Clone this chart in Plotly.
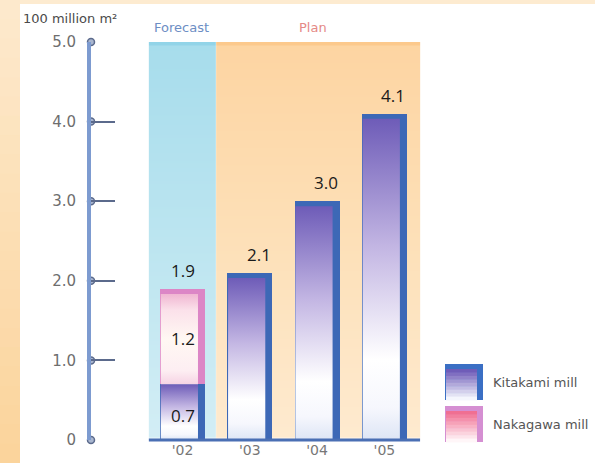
import plotly.graph_objects as go

# ---------------- data ----------------
years = ["'02", "'03", "'04", "'05"]
kitakami = [0.7, 2.1, 3.0, 4.1]          # 100 million m2
nakagawa = [1.2, 0.0, 0.0, 0.0]          # 100 million m2
y_ticks = [0, 1, 2, 3, 4, 5]
y_ticktext = ["0", "1.0", "2.0", "3.0", "4.0", "5.0"]
forecast_span = [-0.5, 0.5]              # category span labelled "Forecast"
plan_span = [0.5, 3.5]                   # category span labelled "Plan"

# ---------------- geometry (pixels) ----------------
W, H = 595, 463
L, R, T, B = 91, 595, 42, 440
CAT0_PX, CAT_STEP_PX = 182.5, 67.3
xs = list(range(len(years)))
x_range = [(L - CAT0_PX) / CAT_STEP_PX, (R - CAT0_PX) / CAT_STEP_PX]
y_range = [0, 5]


def px_x(p):
    return (p - L) / (R - L)


def px_y(p):
    return (B - p) / (B - T)


BAR_W = 0.67
BODY_W = 0.565
BEVEL = 0.065

fig = go.Figure()

# shaded "Forecast" / "Plan" backgrounds (heatmaps sit below bars)
fig.add_trace(go.Heatmap(
    x=[forecast_span[0], sum(forecast_span) / 2, forecast_span[1]],
    y=[0, 0.05, 4.95, 5.0],
    z=[[0, 0], [0.5, 0.5], [1, 1]],
    zmin=0, zmax=1, zsmooth="best", showscale=False, hoverinfo="skip",
    colorscale=[[0, "#e9f6fa"], [0.5, "#bce5f0"], [1, "#92d4e8"]],
))
fig.add_trace(go.Heatmap(
    x=[plan_span[0], sum(plan_span) / 2, plan_span[1] + 0.03],
    y=[0, 0.05, 4.95, 5.0],
    z=[[0, 0], [0.5, 0.5], [1, 1]],
    zmin=0, zmax=1, zsmooth="best", showscale=False, hoverinfo="skip",
    colorscale=[[0, "#fff4e6"], [0.5, "#fde0b8"], [1, "#fcc98c"]],
))

# bars (their visible parts become the 3-D side and top bevel)
fig.add_trace(go.Bar(
    x=xs, y=kitakami, width=BAR_W, name="Kitakami mill", showlegend=False,
    marker=dict(color="#3d68b6", line=dict(width=0)), hoverinfo="y+name",
))
fig.add_trace(go.Bar(
    x=xs, y=nakagawa, width=BAR_W, name="Nakagawa mill", showlegend=False,
    marker=dict(color="#dc86c6", line=dict(width=0)), hoverinfo="y+name",
))

# gradient front faces of the bars, derived from the same data
k_scale = [[0, "#dde5f5"], [0.1, "#f6f7fd"], [0.25, "#ffffff"],
           [0.6, "#c3b6e3"], [1, "#6e5cb8"]]
n_scale = [[0, "#f6d3e4"], [0.15, "#fdeef2"], [0.5, "#fff8f3"],
           [0.82, "#fbe1ea"], [1, "#f0b6d2"]]
for i, c in enumerate(xs):
    x0 = c - BAR_W / 2 + 0.012
    x1 = c - BAR_W / 2 + BODY_W
    k_top = kitakami[i] - (BEVEL if nakagawa[i] == 0 else 0)
    fig.add_trace(go.Scatter(
        x=[x0, x1, x1, x0, x0], y=[0, 0, k_top, k_top, 0],
        mode="lines", line=dict(width=0), fill="toself",
        fillgradient=dict(type="vertical", colorscale=k_scale),
        hoverinfo="skip", showlegend=False,
    ))
    if nakagawa[i] > 0:
        n_top = kitakami[i] + nakagawa[i] - BEVEL
        fig.add_trace(go.Scatter(
            x=[x0, x1, x1, x0, x0],
            y=[kitakami[i], kitakami[i], n_top, n_top, kitakami[i]],
            mode="lines", line=dict(width=0), fill="toself",
            fillgradient=dict(type="vertical", colorscale=n_scale),
            hoverinfo="skip", showlegend=False,
        ))

# little circles where the ticks meet the axis
fig.add_trace(go.Scatter(
    x=[x_range[0]] * len(y_ticks), y=y_ticks, mode="markers",
    marker=dict(symbol="circle", size=7, color="#a9b6cf",
                line=dict(color="#5b6a8c", width=1.5)),
    cliponaxis=False, hoverinfo="skip", showlegend=False,
))

# ---------------- annotations ----------------
ann = []
totals = [k + n for k, n in zip(kitakami, nakagawa)]
lab_font = dict(family="Open Sans", size=17, color="#1a1a1a")
for i, c in enumerate(xs):
    ann.append(dict(x=c, y=totals[i], xref="x", yref="y", text=f"{totals[i]:.1f}",
                    showarrow=False, yanchor="bottom", yshift=5,
                    xshift=0 if nakagawa[i] > 0 else 9, font=lab_font))
    if nakagawa[i] > 0:
        ann.append(dict(x=c, y=kitakami[i] + nakagawa[i] / 2, xref="x", yref="y",
                        text=f"{nakagawa[i]:.1f}", showarrow=False, yshift=-2,
                        font=lab_font))
        ann.append(dict(x=c, y=kitakami[i] / 2, xref="x", yref="y",
                        text=f"{kitakami[i]:.1f}", showarrow=False, yshift=-3,
                        font=lab_font))

small = dict(family="DejaVu Sans", size=13)
ann += [
    dict(x=px_x(21), y=px_y(19), xref="paper", yref="paper", text="100 million m²",
         showarrow=False, xanchor="left", yanchor="middle",
         font=dict(small, color="#4a4a4a")),
    dict(x=px_x(152), y=px_y(28), xref="paper", yref="paper", text="Forecast",
         showarrow=False, xanchor="left", yanchor="middle",
         font=dict(small, color="#6d8ec4")),
    dict(x=px_x(297), y=px_y(28), xref="paper", yref="paper", text="Plan",
         showarrow=False, xanchor="left", yanchor="middle",
         font=dict(small, color="#e58a86")),
    dict(x=px_x(491), y=px_y(382), xref="paper", yref="paper", text="Kitakami mill",
         showarrow=False, xanchor="left", yanchor="middle",
         font=dict(small, color="#555555")),
    dict(x=px_x(491), y=px_y(424), xref="paper", yref="paper", text="Nakagawa mill",
         showarrow=False, xanchor="left", yanchor="middle",
         font=dict(small, color="#555555")),
]

# ---------------- shapes ----------------
shapes = []


def prect(x0, y0, x1, y1, color, layer="above"):
    shapes.append(dict(type="rect", xref="paper", yref="paper",
                       x0=px_x(x0), x1=px_x(x1), y0=px_y(y1), y1=px_y(y0),
                       fillcolor=color, line=dict(width=0), layer=layer))


def hex2rgb(h):
    h = h.lstrip("#")
    return [int(h[i:i + 2], 16) for i in (0, 2, 4)]


def mix(a, b, t):
    ca, cb = hex2rgb(a), hex2rgb(b)
    return "rgb({},{},{})".format(*[round(ca[k] + (cb[k] - ca[k]) * t) for k in range(3)])


# orange frame: left strip and top strip
n_band = 24
for k in range(n_band):
    y0 = H * k / n_band
    y1 = H * (k + 1) / n_band + 1
    prect(0, y0, 20, y1, mix("#fde9cc", "#fbd49c", k / (n_band - 1)), layer="below")
prect(20, 0, W, 4, "#fdebd0", layer="below")

# x baseline
shapes.append(dict(type="line", xref="x", yref="paper", x0=forecast_span[0],
                   x1=plan_span[1] + 0.03, y0=0, y1=0,
                   line=dict(color="#4a6fb4", width=3), layer="above"))


# legend icons (3-D boxes)
def icon(top_px, side_col, face_top, face_bot):
    prect(445, top_px, 483, top_px + 36, side_col)
    nb = 9
    fy0, fy1 = top_px + 5, top_px + 36
    for k in range(nb):
        a = fy0 + (fy1 - fy0) * k / nb
        b = fy0 + (fy1 - fy0) * (k + 1) / nb + 0.5
        prect(446, a, 477, b, mix(face_top, face_bot, k / (nb - 1)))


icon(364, "#3b6fc4", "#6f5cb8", "#f4f6fd")
icon(406, "#d58fd2", "#f06f92", "#fff6f8")

fig.update_layout(
    width=W, height=H, autosize=False,
    margin=dict(l=L, r=W - R, t=T, b=H - B, pad=0),
    paper_bgcolor="#ffffff", plot_bgcolor="rgba(0,0,0,0)",
    barmode="stack", bargap=0, showlegend=False,
    annotations=ann, shapes=shapes,
    xaxis=dict(range=x_range, tickvals=xs, ticktext=years, showgrid=False,
               zeroline=False, showline=False, ticks="", automargin=False,
               tickfont=dict(family="DejaVu Sans", size=14, color="#777777"),
               fixedrange=True),
    yaxis=dict(range=y_range, tickvals=y_ticks, ticktext=y_ticktext,
               showgrid=False, zeroline=False, showline=True,
               linecolor="#7d9bd0", linewidth=4, ticks="inside", ticklen=24,
               tickwidth=2, tickcolor="#5b6a8c", ticklabelstandoff=8,
               tickfont=dict(family="DejaVu Sans", size=15, color="#6e6e6e"),
               automargin=False, fixedrange=True),
)

fig.write_html("out.html")
